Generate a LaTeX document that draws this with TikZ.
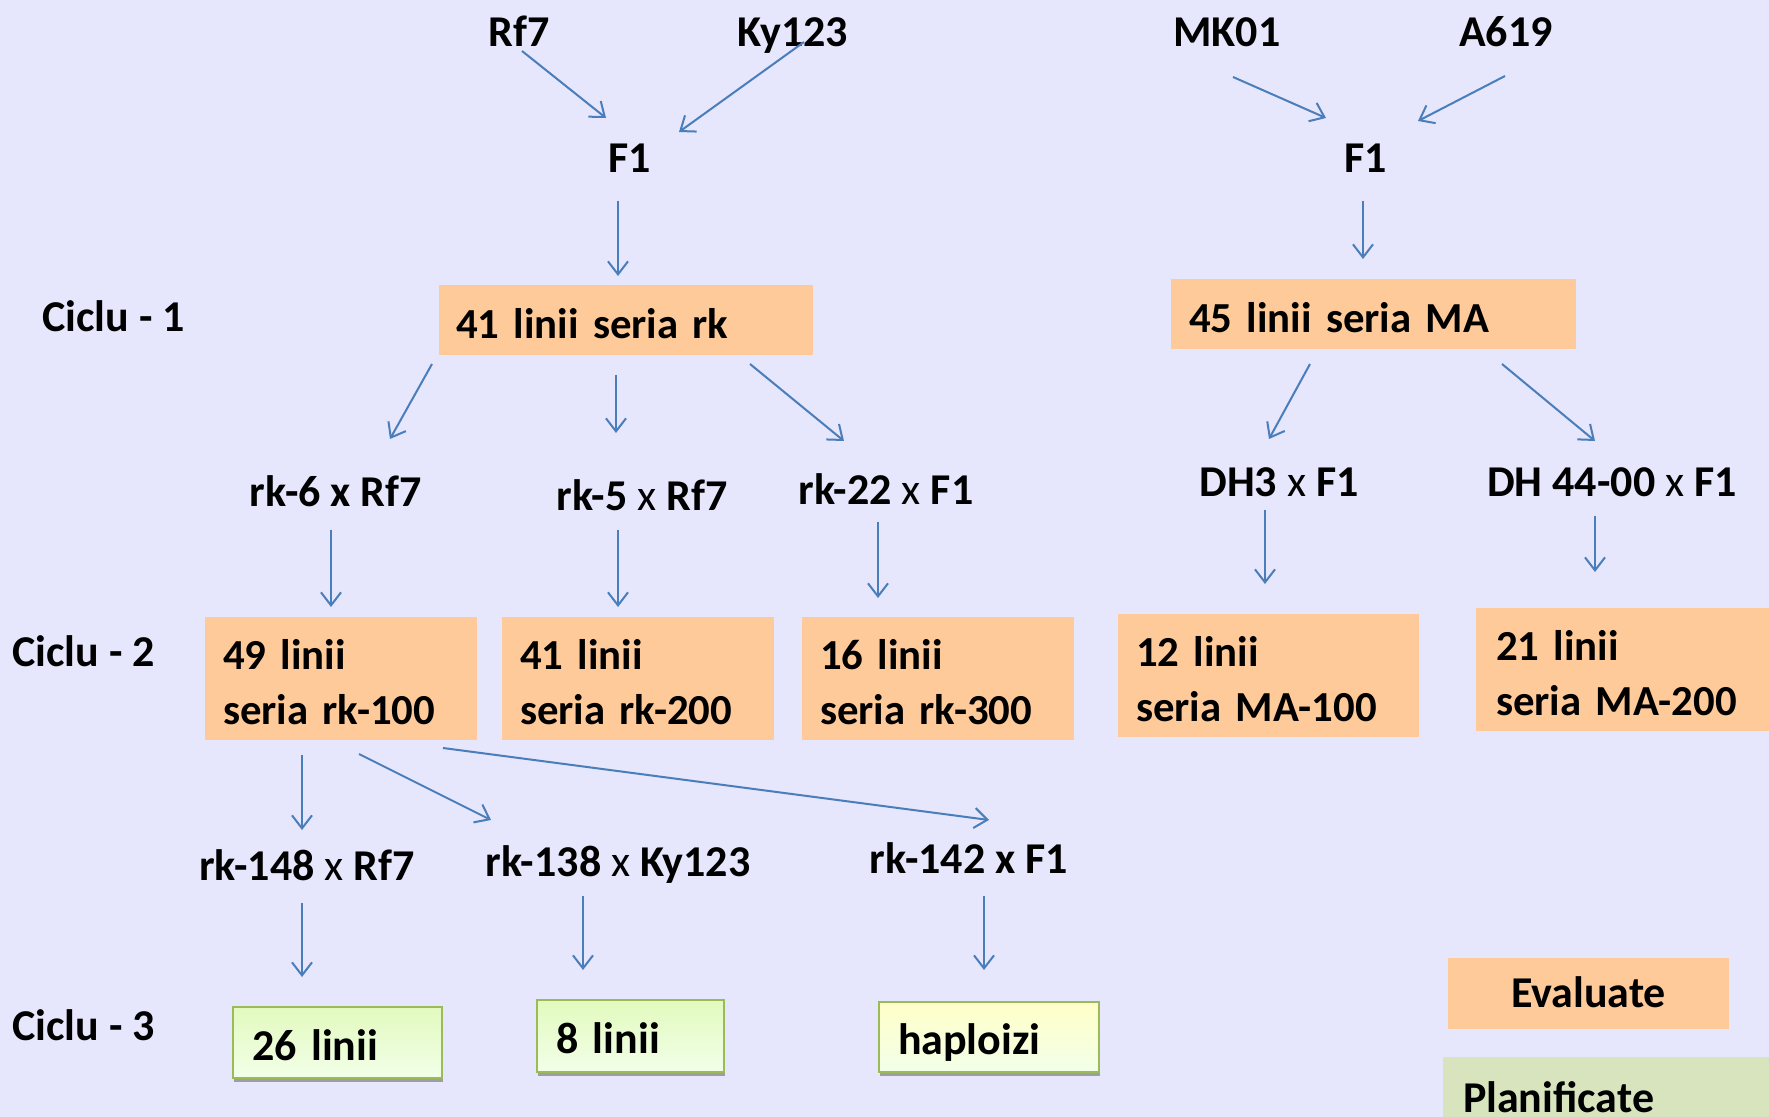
\documentclass[tikz,border=0pt]{standalone}
\usepackage{fontspec}
\setmainfont{Carlito}
\usetikzlibrary{arrows.meta,shadows}
\definecolor{bgc}{RGB}{230,230,252}
\definecolor{orbox}{RGB}{255,202,153}
\definecolor{arrc}{RGB}{74,126,187}
\definecolor{gtop}{RGB}{226,250,190}
\definecolor{gbot}{RGB}{242,255,232}
\definecolor{htop}{RGB}{255,255,200}
\definecolor{gbord}{RGB}{155,187,89}
\definecolor{plang}{RGB}{216,228,190}
\newcommand{\bxs}{\rule{0pt}{18.8pt}}
\tikzset{
  txt/.style={font=\fontsize{22}{27.5}\selectfont\bfseries, inner sep=0pt, text height=14.2pt, text depth=0pt},
  orb/.style={font=\fontsize{21.4}{27.5}\selectfont\bfseries, inner ysep=0pt, fill=orbox, draw=none, align=left},
  grb/.style={txt, text height=17.6pt, top color=gtop, bottom color=gbot, draw=gbord, line width=1.1pt, align=left,
     drop shadow={shadow xshift=0.3pt, shadow yshift=-2pt, fill=black!45, opacity=0.8}},
  arr/.style={draw=arrc, line width=1pt, -{Straight Barb[length=6.5pt,width=10pt]}}
}
\newcommand{\xx}{{\mdseries x}}
\begin{document}
\begin{tikzpicture}[x=0.5pt,y=-0.5pt]
\fill[bgc] (0,0) rectangle (1769,1117);
\useasboundingbox (0,0) rectangle (1769,1117);
\clip (0,0) rectangle (1769,1117);
% top labels
\node[txt] (rf7) at (519,32) {Rf7};
\node[txt] (ky) at (793,32) {Ky123};
\node[txt] (mk) at (1227,32) {MK01};
\node[txt] (a619) at (1506,32) {A619};
\node[txt] (f1a) at (630,158) {F1};
\node[txt] (f1b) at (1366,158) {F1};
% cycle labels
\node[txt, anchor=west] (c1) at (42,317) {Ciclu - 1};
\node[txt, anchor=west] (c2) at (12,652) {Ciclu - 2};
\node[txt, anchor=west] (c3) at (12,1026) {Ciclu - 3};
% cycle 1 boxes
\node[orb, minimum width=187pt, minimum height=35pt, inner xsep=8.5pt, text width=170pt] (brk) at (626,320) {\bxs 41 linii seria rk};
\node[orb, minimum width=202.5pt, minimum height=35pt, inner xsep=9pt, text width=184.5pt] (bma) at (1373.5,314) {\bxs 45 linii seria MA};
% crosses
\node[txt] (rk6) at (336,492) {rk-6 x Rf7};
\node[txt] (rk5) at (642,496) {rk-5 \xx{} Rf7};
\node[txt] (rk22) at (886,490) {rk-22 \xx{} F1};
\node[txt] (dh3) at (1279,482) {DH3 \xx{} F1};
\node[txt] (dh44) at (1612,482) {DH 44-00 \xx{} F1};
% cycle 2 boxes
\node[orb, minimum width=136pt, minimum height=61.5pt, inner xsep=9pt, text width=118pt] (b100) at (341,678.5) {\bxs 49 linii\\seria rk-100};
\node[orb, minimum width=136pt, minimum height=61.5pt, inner xsep=9pt, text width=118pt] (b200) at (638,678.5) {\bxs 41 linii\\seria rk-200};
\node[orb, minimum width=136pt, minimum height=61.5pt, inner xsep=9pt, text width=118pt] (b300) at (938,678.5) {\bxs 16 linii\\seria rk-300};
\node[orb, minimum width=150.5pt, minimum height=61.5pt, inner xsep=9pt, text width=132.5pt] (bm100) at (1268.5,675.5) {\bxs 12 linii\\seria MA-100};
\node[orb, minimum width=152pt, minimum height=61.5pt, inner xsep=10pt, text width=132pt] (bm200) at (1628,669.5) {\bxs 21 linii\\seria MA-200};
% second crosses
\node[txt] (rk148) at (307,866) {rk-148 \xx{} Rf7};
\node[txt] (rk138) at (618,862) {rk-138 \xx{} Ky123};
\node[txt] (rk142) at (969,859) {rk-142 x F1};
% cycle 3 boxes
\node[grb, minimum width=104.5pt, minimum height=35.5pt, inner xsep=9.5pt, text width=85.5pt] (g26) at (337.5,1042.5) {26 linii};
\node[grb, minimum width=93.5pt, minimum height=36pt, inner xsep=9.5pt, text width=74.5pt] (g8) at (630.5,1036) {8 linii};
\node[grb, top color=htop, minimum width=110pt, minimum height=35pt, inner xsep=9.5pt, text width=91pt] (ghap) at (989,1037) {haploizi};
% legend
\node[txt, fill=orbox, minimum width=140.5pt, minimum height=35.5pt] (leg1) at (1588.5,993.5) {Evaluate};
\node[txt, fill=plang, minimum width=173.5pt, minimum height=41.5pt, inner xsep=10pt, text width=153.5pt, align=left] (leg2) at (1616.5,1098) {Planificate};
% arrow ends
\coordinate (a1s) at (522,51);   \coordinate (a1e) at (606,118);
\coordinate (a2s) at (804,42);   \coordinate (a2e) at (679,132);
\coordinate (a3s) at (1233,77);  \coordinate (a3e) at (1326,118);
\coordinate (a4s) at (1505,76);  \coordinate (a4e) at (1418,121);
\coordinate (a5s) at (618,201);  \coordinate (a5e) at (618,276);
\coordinate (a6s) at (1363,201); \coordinate (a6e) at (1363,259);
\coordinate (a7s) at (432,364);  \coordinate (a7e) at (390,439);
\coordinate (a8s) at (616,375);  \coordinate (a8e) at (616,433);
\coordinate (a9s) at (750,364);  \coordinate (a9e) at (844,441);
\coordinate (a10s) at (1310,364); \coordinate (a10e) at (1269,439);
\coordinate (a11s) at (1502,364); \coordinate (a11e) at (1595,441);
\coordinate (a12s) at (331,530); \coordinate (a12e) at (331,607);
\coordinate (a13s) at (618,530); \coordinate (a13e) at (618,607);
\coordinate (a14s) at (878,522); \coordinate (a14e) at (878,598);
\coordinate (a15s) at (1265,510); \coordinate (a15e) at (1265,584);
\coordinate (a16s) at (1595,516); \coordinate (a16e) at (1595,572);
\coordinate (a17s) at (302,755); \coordinate (a17e) at (302,830);
\coordinate (a18s) at (359,754); \coordinate (a18e) at (491,820);
\coordinate (a19s) at (443,748); \coordinate (a19e) at (989,820);
\coordinate (a20s) at (302,903); \coordinate (a20e) at (302,977);
\coordinate (a21s) at (583,896); \coordinate (a21e) at (583,970);
\coordinate (a22s) at (984,896); \coordinate (a22e) at (984,970);
\foreach \i in {1,...,22} { \draw[arr] (a\i s) -- (a\i e); }
\end{tikzpicture}
\end{document}
